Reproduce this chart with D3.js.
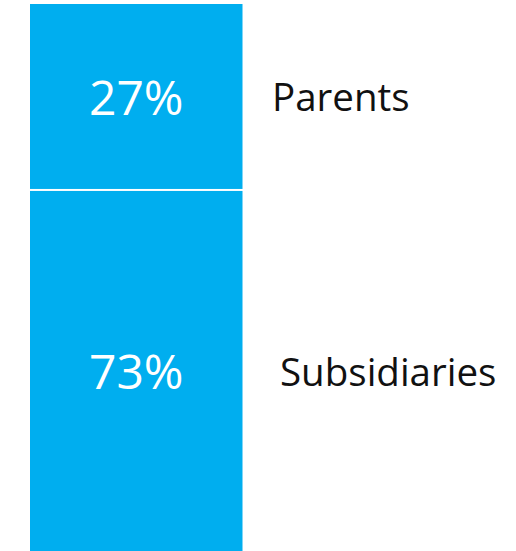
<!DOCTYPE html>
<html>
<head>
<meta charset="utf-8">
<script src="https://cdn.jsdelivr.net/npm/d3@7/dist/d3.min.js"></script>
<style>
  html, body { margin: 0; padding: 0; background: #fff; overflow: hidden; }
  svg { display: block; }
  text { font-family: "Open Sans", "Noto Sans", sans-serif; }
</style>
</head>
<body>
<script>
// Share of the total, stacked top to bottom
const categories = ["Parents", "Subsidiaries"];
const shares = [27, 73];

const width = 516, height = 551;
const barLeft = 30, barRight = 242.5, barTop = 4;
const fullHeight = 685;            // full stack height (runs past the bottom edge)
const gap = 2;                     // white gap between segments
const nameX = [272, 280];          // left edge of each category name

const svg = d3.select("body").append("svg")
  .attr("width", width)
  .attr("height", height);

const y = d3.scaleLinear().domain([0, d3.sum(shares)]).range([barTop, barTop + fullHeight]);

const stacked = shares.map((v, i) => {
  const start = d3.sum(shares.slice(0, i));
  return { name: categories[i], value: v, y0: y(start) + (i > 0 ? gap : 0), y1: y(start + v) };
});

svg.selectAll("rect.seg")
  .data(stacked)
  .join("rect")
  .attr("class", "seg")
  .attr("x", barLeft)
  .attr("width", barRight - barLeft)
  .attr("y", d => d.y0)
  .attr("height", d => d.y1 - d.y0)
  .attr("fill", "#00aeef");

// vertical centre of the visible part of each segment
const mid = d => (d.y0 + Math.min(d.y1, height)) / 2;

svg.selectAll("text.pct")
  .data(stacked)
  .join("text")
  .attr("class", "pct")
  .attr("x", (barLeft + barRight) / 2)
  .attr("y", mid)
  .attr("dy", "0.38em")
  .attr("text-anchor", "middle")
  .attr("fill", "#fff")
  .attr("font-size", 48)
  .text(d => d.value + "%");

svg.selectAll("text.name")
  .data(stacked)
  .join("text")
  .attr("class", "name")
  .attr("x", (d, i) => nameX[i])
  .attr("y", mid)
  .attr("dy", "0.39em")
  .attr("fill", "#111")
  .attr("font-size", 38.5)
  .text(d => d.name);
</script>
</body>
</html>
